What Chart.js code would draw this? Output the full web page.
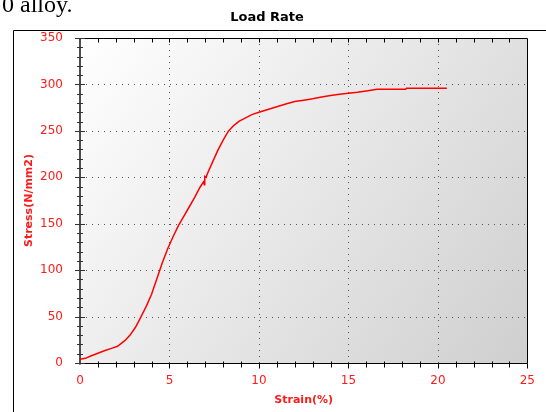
<!DOCTYPE html>
<html>
<head>
<meta charset="utf-8">
<script src="https://cdn.jsdelivr.net/npm/chart.js@4"></script>
<style>
    html, body { margin: 0; padding: 0; background: #fff; overflow: hidden; }
    #wrap { position: relative; width: 546px; height: 412px; }
    #loadChart { position: absolute; left: 0; top: 0; }
    #caption { position: absolute; left: 2px; top: -8px; font: 24px/24px "Liberation Serif", serif; color: #000; white-space: nowrap; }
</style>
</head>
<body>
<div id="wrap">
    <canvas id="loadChart" width="546" height="412"></canvas>
    <div id="caption">0 alloy.</div>
</div>
<script>
// data
const strain = [0, 0.3, 0.6, 1.0, 1.4, 1.8, 2.1, 2.5, 2.8, 3.1, 3.4, 3.7, 4.0, 4.3, 4.6, 4.9,
    5.2, 5.5, 5.8, 6.1, 6.4, 6.7, 6.9, 6.95, 6.97, 7.05, 7.1, 7.4, 7.7, 8.0, 8.3, 8.6, 8.9,
    9.2, 9.6, 10.0, 10.5, 11.0, 11.5, 12.0, 12.5, 13.0, 13.5, 14.0, 14.5, 15.0, 15.5, 16.0,
    16.6, 17.5, 18.2, 18.25, 19.0, 20.0, 20.5];
const stress = [4, 5, 7.5, 10.5, 13.5, 16, 18, 24, 30, 38.5, 49.5, 61, 74, 91, 108, 123,
    136, 148, 158, 168, 178, 189, 195, 192, 201, 200, 203, 216, 229, 240, 250, 256, 260.5,
    263.5, 267.5, 270, 273, 276, 279, 281.5, 283, 284.5, 286.5, 288, 289.5, 290.5, 291.5, 293,
    294.7, 294.7, 294.7, 295.8, 295.8, 295.8, 295.8];
const xTicks = [0, 5, 10, 15, 20, 25];
const yTicks = [0, 50, 100, 150, 200, 250, 300, 350];

const chartTitle = 'Load Rate';
const xTitle = 'Strain(%)';
const yTitle = 'Stress(N/mm2)';

const RED = '#ff1a1a';

const framePlugin = {
    id: 'frame',
    beforeDraw(c) {
        const ctx = c.ctx;
        const a = c.chartArea;
        ctx.save();
        ctx.fillStyle = '#fff';
        ctx.fillRect(0, 0, c.width, c.height);

        // outer box
        ctx.strokeStyle = '#000';
        ctx.lineWidth = 1;
        ctx.beginPath();
        ctx.moveTo(13.5, c.height);
        ctx.lineTo(13.5, 30.5);
        ctx.lineTo(c.width, 30.5);
        ctx.stroke();

        // title
        ctx.font = 'bold 13px "DejaVu Sans"';
        ctx.fillStyle = '#000';
        ctx.textAlign = 'center';
        ctx.textBaseline = 'middle';
        ctx.fillText(chartTitle, 267, 18);

        // plot background
        const g = ctx.createLinearGradient(a.left, a.top, a.right, a.bottom);
        g.addColorStop(0, '#ffffff');
        g.addColorStop(1, '#cfcfcf');
        ctx.fillStyle = g;
        ctx.fillRect(a.left, a.top, a.right - a.left, a.bottom - a.top);
        ctx.restore();
    },
    beforeDatasetsDraw(c) {
        const ctx = c.ctx;
        const a = c.chartArea;
        const xs = c.scales.x;
        const ys = c.scales.y;
        ctx.save();

        // dotted grid
        ctx.strokeStyle = '#555';
        ctx.lineWidth = 1;
        ctx.setLineDash([1, 5]);
        xTicks.slice(1, -1).forEach(v => {
            const px = Math.round(xs.getPixelForValue(v)) + 0.5;
            ctx.beginPath();
            ctx.moveTo(px, a.top);
            ctx.lineTo(px, a.bottom);
            ctx.stroke();
        });
        yTicks.slice(1, -1).forEach(v => {
            const py = Math.round(ys.getPixelForValue(v)) + 0.5;
            ctx.beginPath();
            ctx.moveTo(a.left, py);
            ctx.lineTo(a.right, py);
            ctx.stroke();
        });
        ctx.setLineDash([]);

        // top + right + bottom frame
        const top = Math.round(a.top) + 0.5;
        const bot = Math.round(a.bottom) + 0.5;
        const right = Math.round(a.right) + 0.5;
        ctx.strokeStyle = '#000';
        ctx.beginPath();
        ctx.moveTo(a.left, top);
        ctx.lineTo(right, top);
        ctx.lineTo(right, bot);
        ctx.lineTo(a.left, bot);
        ctx.stroke();

        // x minor ticks (top and bottom)
        ctx.beginPath();
        for (let v = xs.min + 1; v < xs.max; v++) {
            const px = Math.round(xs.getPixelForValue(v)) + 0.5;
            ctx.moveTo(px, top);
            ctx.lineTo(px, top + 4);
            if (v % 5 === 0) {
                ctx.moveTo(px, bot);
                ctx.lineTo(px, bot + 5);
            } else {
                ctx.moveTo(px, bot - 2);
                ctx.lineTo(px, bot + 4);
            }
        }
        const px25 = Math.round(xs.getPixelForValue(xs.max)) + 0.5;
        ctx.moveTo(px25, bot);
        ctx.lineTo(px25, bot + 5);
        ctx.stroke();

        // left axis
        const left = Math.round(a.left);
        ctx.strokeStyle = '#4d4d4d';
        ctx.lineWidth = 2;
        ctx.beginPath();
        ctx.moveTo(left, a.top);
        ctx.lineTo(left, bot + 1);
        ctx.stroke();
        ctx.lineWidth = 1;
        ctx.strokeStyle = '#333';
        ctx.beginPath();
        for (let v = ys.min; v <= ys.max; v += 10) {
            const py = Math.round(ys.getPixelForValue(v)) + 0.5;
            const len = v % 50 === 0 ? 5 : 3;
            ctx.moveTo(left - len, py);
            ctx.lineTo(left + len, py);
        }
        ctx.stroke();
        ctx.restore();
    }
};

const chart = new Chart(document.getElementById('loadChart'), {
    type: 'line',
    data: {
        datasets: [{
            data: strain.map((x, i) => ({ x: x, y: stress[i] })),
            borderColor: '#ff0000',
            borderWidth: 1.5,
            pointRadius: 0,
            tension: 0,
            fill: false
        }]
    },
    options: {
        responsive: false,
        animation: false,
        devicePixelRatio: 1,
        layout: { padding: { left: 0, top: 38, right: 16, bottom: 0 } },
        plugins: {
            legend: { display: false },
            tooltip: { enabled: false }
        },
        scales: {
            x: {
                type: 'linear',
                min: 0,
                max: 25,
                afterBuildTicks: s => { s.ticks = xTicks.map(v => ({ value: v })); },
                afterFit: s => { s.height = 49; },
                grid: { display: false, drawTicks: false },
                border: { display: false },
                ticks: {
                    color: RED,
                    font: { family: 'DejaVu Sans', size: 12 },
                    padding: 11,
                    maxRotation: 0,
                    autoSkip: false
                },
                title: {
                    display: true,
                    text: xTitle,
                    color: RED,
                    font: { family: 'DejaVu Sans', size: 11, weight: 'bold' },
                    padding: { top: 0, bottom: 5 }
                }
            },
            y: {
                min: 0,
                max: 350,
                afterBuildTicks: s => { s.ticks = yTicks.map(v => ({ value: v })); },
                afterFit: s => { s.width = 80; },
                grid: { display: false, drawTicks: false },
                border: { display: false },
                ticks: {
                    color: RED,
                    font: { family: 'DejaVu Sans', size: 12 },
                    padding: 17,
                    autoSkip: false
                },
                title: {
                    display: true,
                    text: yTitle,
                    color: RED,
                    font: { family: 'DejaVu Sans', size: 11, weight: 'bold' },
                    padding: { top: 23, bottom: 0 }
                }
            }
        }
    },
    plugins: [framePlugin]
});
</script>
</body>
</html>
